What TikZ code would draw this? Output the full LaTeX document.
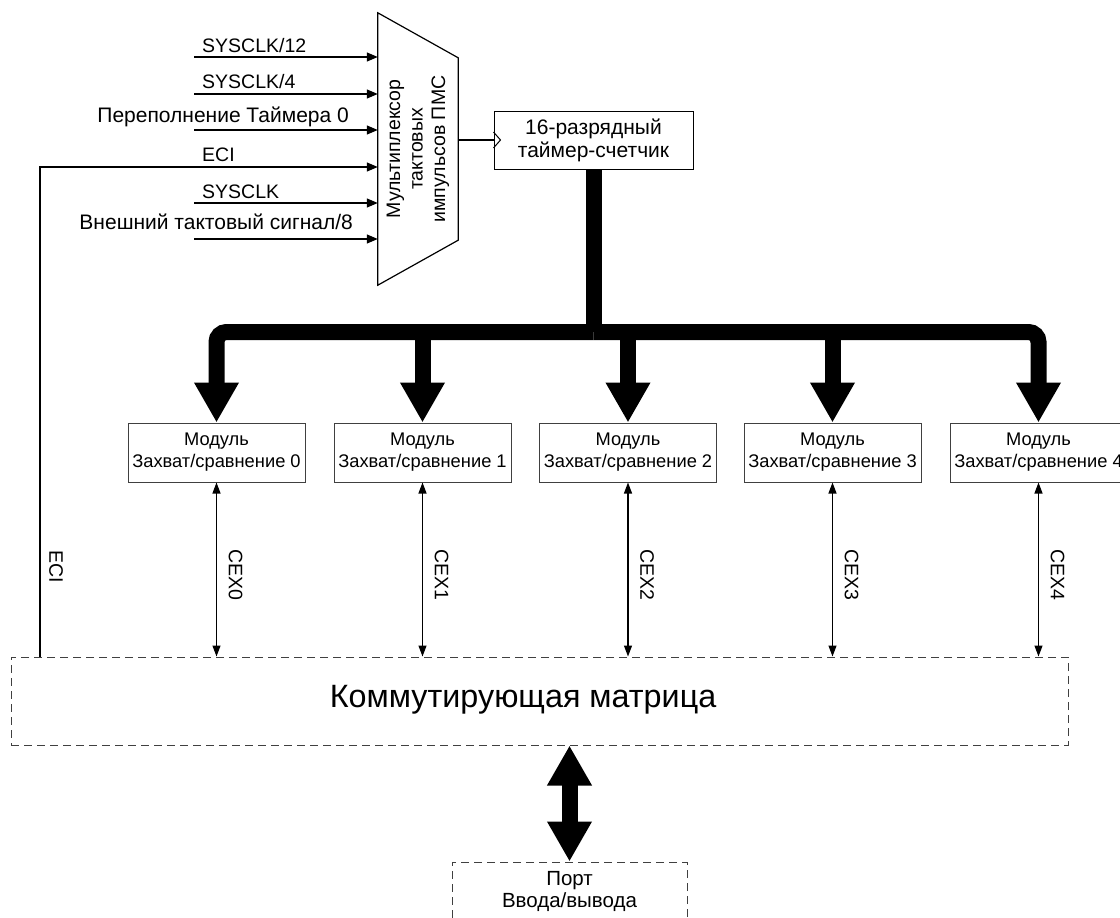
\documentclass[tikz,border=0pt]{standalone}
\usepackage{fontspec}
\setmainfont{Liberation Sans}
\usetikzlibrary{arrows.meta,calc}
\newcommand\labf{\fontsize{19.5}{22.5}\selectfont}
\newcommand\cyrf{\fontsize{21}{23}\selectfont}
\newcommand\modf{\fontsize{18.3}{22}\selectfont}
\newcommand\bigf{\fontsize{32.3}{38}\selectfont}
\tikzset{
 x=1pt,y=-1pt,
 sig/.style={line width=1.2pt,-{Triangle[length=11pt,width=9pt]}},
 cex/.style={line width=1.2pt,{Triangle[length=11pt,width=8pt]}-{Triangle[length=11pt,width=8pt]}},
 bus/.style={line width=16pt},
 bustip/.style={-{Triangle[length=40pt,width=42pt]}},
 modbox/.style={draw=black!75,line width=1pt,minimum width=177pt,minimum height=59pt,inner sep=0pt,align=center,font=\modf},
 dbox/.style={draw=black!75,line width=1pt,dash pattern=on 8pt off 5pt,inner sep=0pt},
 lbl/.style={inner sep=0pt,font=\labf}
}
\begin{document}
\begin{tikzpicture}
\clip (0,0) rectangle (1120,918);
% multiplexer
\node[minimum width=80pt,minimum height=272pt,inner sep=0pt] (mux) at (418,149) {};
\draw[line width=1.2pt] (mux.north west) -- ($(mux.north east)+(0,45)$) -- ($(mux.south east)+(0,-45)$) -- (mux.south west) -- cycle;
\node[lbl,rotate=90,align=center] (muxt) at (mux.center) {Мультиплексор\\тактовых\\импульсов ПМС};
% timer
\node[modbox,draw=black,minimum width=199pt,minimum height=58pt,font=\cyrf] (timer) at (593.5,140) {16-разрядный\\таймер-счетчик};
\draw[line width=1.2pt] (mux.east |- timer.west) -- (timer.west);
\draw[line width=1pt] ($(timer.west)+(0,-8)$) -- ($(timer.west)+(7,0)$) -- ($(timer.west)+(0,8)$);
% inputs
\coordinate (s1) at (194,57);
\coordinate (s2) at (194,94);
\coordinate (s3) at (194,130);
\coordinate (s5) at (194,203);
\coordinate (s6) at (194,239);
\foreach \s in {s1,s2,s3,s5,s6} \draw[sig] (\s) -- (mux.west |- \s);
\node[lbl,anchor=base west] (l1) at (202,52) {SYSCLK/12};
\node[lbl,anchor=base west] (l2) at (202,88) {SYSCLK/4};
\node[lbl,anchor=base east,font=\cyrf] (l3) at (349,122) {Переполнение Таймера 0};
\node[lbl,anchor=base west] (l4) at (202,161) {ECI};
\node[lbl,anchor=base west] (l5) at (202,198) {SYSCLK};
\node[lbl,anchor=base east,font=\cyrf] (l6) at (353,229) {Внешний тактовый сигнал/8};
% switching matrix
\node[dbox,minimum width=1057pt,minimum height=88pt] (mat) at (539.5,701) {};
\node[inner sep=0pt,font=\bigf] (matt) at (523,700) {Коммутирующая матрица};
% ECI path
\coordinate (ecix) at (40,167);
\draw[sig] (mat.north -| ecix) |- (mux.west |- ecix);
\node[lbl,rotate=-90,anchor=south] (ecil) at (49,567) {ECI};
% modules
\foreach \i/\x in {0/216.5,1/422.5,2/628,3/832.5,4/1038.5}
  \node[modbox] (m\i) at (\x,452.5) {Модуль\\Захват/сравнение \i};
\foreach \i in {0,...,4} {
  \draw[cex] (m\i.south) -- (m\i.south |- mat.north);
  \node[lbl,rotate=-90,anchor=south] (c\i) at ($(m\i.south |- 0,575)+(12,0)$) {CEX\i};
}
% bus
\coordinate (busy) at (598,332);
\draw[bus] (timer.south) -- (timer.south |- busy);
\draw[bus,bustip,rounded corners=10pt] (timer.south |- busy) -| (m0.north);
\draw[bus,bustip,rounded corners=10pt] (timer.south |- busy) -| (m4.north);
\foreach \i in {1,2,3} \draw[bus,bustip] (m\i.north |- busy) -- (m\i.north);
% port
\node[dbox,minimum width=235pt,minimum height=80pt] (port) at (569.5,902) {};
\node[lbl,align=center,font=\fontsize{20.5}{22}\selectfont] (portt) at (569.5,891) {Порт\\Ввода/вывода};
\draw[bus,{Triangle[length=40pt,width=42pt]}-{Triangle[length=40pt,width=42pt]}] (mat.south -| port.north) -- (port.north);
\end{tikzpicture}
\end{document}
